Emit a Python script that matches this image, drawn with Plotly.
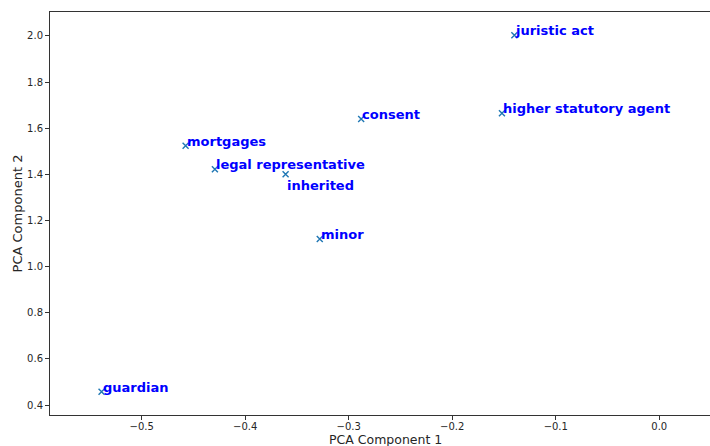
import plotly.graph_objects as go

words = ["juristic act", "higher statutory agent", "consent", "mortgages",
         "legal representative", "inherited", "minor", "guardian"]
pc1 = [-0.140, -0.152, -0.288, -0.4576, -0.4293, -0.361, -0.328, -0.5388]
pc2 = [2.003, 1.665, 1.640, 1.524, 1.422, 1.401, 1.120, 0.4575]

x_ticks = [-0.5, -0.4, -0.3, -0.2, -0.1, 0.0]
x_tick_labels = ["\u22120.5", "\u22120.4", "\u22120.3", "\u22120.2", "\u22120.1", "0.0"]
y_ticks = [0.4, 0.6, 0.8, 1.0, 1.2, 1.4, 1.6, 1.8, 2.0]
y_tick_labels = ["0.4", "0.6", "0.8", "1.0", "1.2", "1.4", "1.6", "1.8", "2.0"]

# label vertical offsets (px) to avoid overlap
label_shift = {"inherited": -16}

fig = go.Figure()
fig.add_trace(go.Scatter(
    x=pc1, y=pc2, mode="markers",
    marker=dict(symbol="x-thin", size=6, color="#1f77b4",
                line=dict(width=1.4, color="#1f77b4")),
    hoverinfo="skip", showlegend=False,
))

annotations = []
for w, xv, yv in zip(words, pc1, pc2):
    annotations.append(dict(
        x=xv, y=yv, xref="x", yref="y", text="<b>" + w + "</b>",
        showarrow=False, xanchor="left", yanchor="bottom",
        xshift=-1, yshift=-5 + label_shift.get(w, 0),
        font=dict(family="DejaVu Sans", size=13, color="#0000ff"),
    ))

# x-axis title (the original figure's plot area extends past the right edge)
annotations.append(dict(
    x=0.509, y=0, xref="paper", yref="paper", text="PCA Component 1",
    showarrow=False, xanchor="center", yanchor="top", yshift=-16, borderpad=0,
    font=dict(family="DejaVu Sans", size=12.5, color="#262626"),
))

fig.update_layout(
    width=710, height=446,
    margin=dict(l=50, r=0, t=12, b=31),
    paper_bgcolor="white", plot_bgcolor="white",
    annotations=annotations,
    font=dict(family="DejaVu Sans", color="#262626"),
    xaxis=dict(
        range=[-0.5886, 0.049], tickvals=x_ticks, ticktext=x_tick_labels,
        showgrid=False, zeroline=False, showline=True, mirror=True,
        linecolor="#333333", linewidth=1, ticks="outside", ticklen=4,
        tickcolor="#333333", tickfont=dict(size=10, color="#262626"),
        ticklabelstandoff=-2,
        automargin=False,
    ),
    yaxis=dict(
        range=[0.357, 2.104], tickvals=y_ticks, ticktext=y_tick_labels,
        showgrid=False, zeroline=False, showline=True, mirror=False,
        linecolor="#333333", linewidth=1, ticks="outside", ticklen=4,
        tickcolor="#333333", tickfont=dict(size=10, color="#262626"),
        title=dict(text="PCA Component 2", font=dict(size=13, color="#262626"), standoff=1),
        automargin=False,
    ),
)

fig.write_html(
    "out.html",
    config={"displayModeBar": False},
    post_script="document.body.style.margin='0';document.body.style.overflow='hidden';",
)
